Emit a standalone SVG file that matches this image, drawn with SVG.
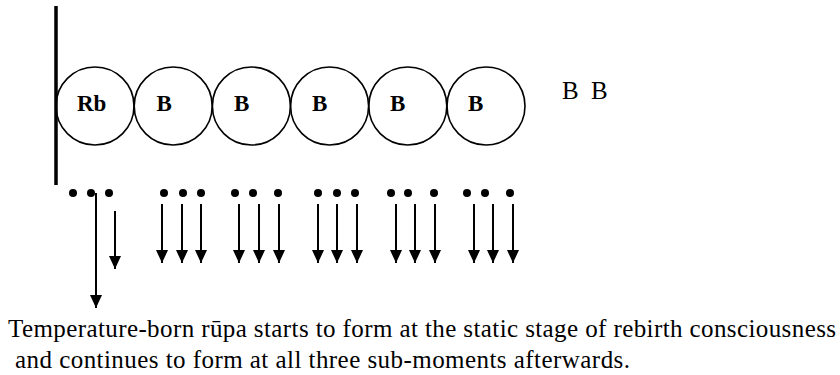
<svg xmlns="http://www.w3.org/2000/svg" width="840" height="375" viewBox="0 0 840 375">
<defs>
<style>
.c{fill:none;stroke:#000;stroke-width:1.6}
.lb{font-family:"Liberation Serif","Times New Roman",serif;font-weight:bold;font-size:23px;fill:#000}
.tx{font-family:"Liberation Serif","Times New Roman",serif;font-size:25px;fill:#000}
.ar{stroke:#000;stroke-width:2;fill:none}
.d{fill:#000}
</style>
<marker id="ahd" markerUnits="userSpaceOnUse" markerWidth="12" markerHeight="13" viewBox="0 0 12 13" refX="6" refY="13" orient="0">
<path d="M0,0 L12,0 L6,13 Z" fill="#000"/>
</marker>
</defs>
<rect width="840" height="375" fill="#fff"/>
<line x1="56" y1="6" x2="56" y2="185" stroke="#000" stroke-width="3.5"/>
<g id="n1"><circle class="c" cx="95" cy="106" r="39"/><text class="lb" x="77" y="111">Rb</text></g>
<g id="n2"><circle class="c" cx="173.2" cy="106" r="39"/><text class="lb" x="156.5" y="111">B</text></g>
<g id="n3"><circle class="c" cx="251.4" cy="106" r="39"/><text class="lb" x="234" y="111">B</text></g>
<g id="n4"><circle class="c" cx="329.6" cy="106" r="39"/><text class="lb" x="312" y="111">B</text></g>
<g id="n5"><circle class="c" cx="407.8" cy="106" r="39"/><text class="lb" x="390" y="111">B</text></g>
<g id="n6"><circle class="c" cx="486" cy="106" r="39"/><text class="lb" x="468" y="111">B</text></g>
<text class="tx" x="562" y="99" font-size="23" word-spacing="6">B B</text>
<g id="dots">
<circle class="d" cx="73" cy="193" r="4"/><circle class="d" cx="91" cy="193" r="4"/><circle class="d" cx="109" cy="193" r="4"/>
<circle class="d" cx="164" cy="193" r="4"/><circle class="d" cx="183" cy="193" r="4"/><circle class="d" cx="201" cy="193" r="4"/>
<circle class="d" cx="235" cy="193" r="4"/><circle class="d" cx="253" cy="193" r="4"/><circle class="d" cx="278" cy="193" r="4"/>
<circle class="d" cx="318" cy="193" r="4"/><circle class="d" cx="337" cy="193" r="4"/><circle class="d" cx="355" cy="193" r="4"/>
<circle class="d" cx="391" cy="193" r="4"/><circle class="d" cx="408" cy="193" r="4"/><circle class="d" cx="434" cy="193" r="4"/>
<circle class="d" cx="467" cy="193" r="4"/><circle class="d" cx="485" cy="193" r="4"/><circle class="d" cx="510" cy="193" r="4"/>
</g>
<g id="connectors" class="ar" marker-end="url(#ahd)">
<line x1="96" y1="193" x2="96" y2="308"/>
<line x1="115" y1="211" x2="115" y2="269"/>
<line x1="162" y1="204" x2="162" y2="263"/><line x1="182" y1="204" x2="182" y2="263"/><line x1="201" y1="204" x2="201" y2="263"/>
<line x1="239" y1="204" x2="239" y2="263"/><line x1="259" y1="204" x2="259" y2="263"/><line x1="279" y1="204" x2="279" y2="263"/>
<line x1="318" y1="204" x2="318" y2="263"/><line x1="337" y1="204" x2="337" y2="263"/><line x1="357" y1="204" x2="357" y2="263"/>
<line x1="396" y1="204" x2="396" y2="263"/><line x1="415" y1="204" x2="415" y2="263"/><line x1="435" y1="204" x2="435" y2="263"/>
<line x1="474" y1="204" x2="474" y2="263"/><line x1="493" y1="204" x2="493" y2="263"/><line x1="513" y1="204" x2="513" y2="263"/>
</g>
<text class="tx" x="8" y="337" textLength="828" lengthAdjust="spacing">Temperature-born rūpa starts to form at the static stage of rebirth consciousness</text>
<text class="tx" x="15" y="368" textLength="615" lengthAdjust="spacing">and continues to form at all three sub-moments afterwards.</text>
</svg>
